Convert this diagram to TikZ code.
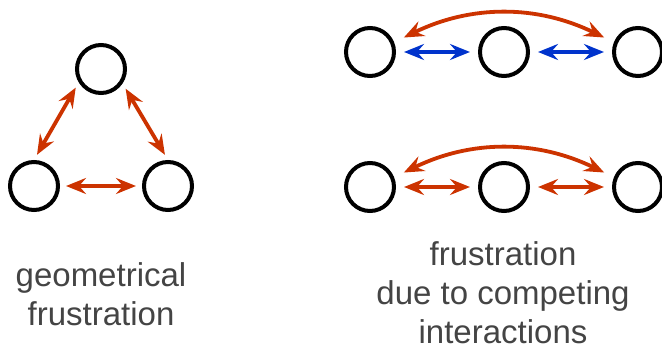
\documentclass[tikz,border=0pt]{standalone}
\usepackage{fontspec}
\setmainfont{Liberation Sans}
\usetikzlibrary{arrows.meta}
\definecolor{bondred}{RGB}{204,51,0}
\definecolor{bondblue}{RGB}{0,51,204}
\definecolor{labelgray}{RGB}{68,68,68}

\begin{document}
\begin{tikzpicture}[x=0.5pt,y=0.5pt,
		spin/.style={circle,draw=black,line width=2pt,minimum size=24pt,inner sep=0pt},
		bond/.style={line width=1.9pt,{Stealth[length=10pt,width=8pt,inset=3.5pt]}-{Stealth[length=10pt,width=8pt,inset=3.5pt]}},
		caption/.style={align=center,text=labelgray,font=\fontsize{16.5}{19.5}\selectfont,anchor=base}]
		\useasboundingbox (0,0) rectangle (662,-347);

		% triangle
		\node[spin] (t1) at (101,-69) {};
		\node[spin] (t2) at (34,-186) {};
		\node[spin] (t3) at (168,-186) {};

		% two chains
		\foreach \row/\y in {a/-52, b/-187} {
			\node[spin] (\row1) at (370,\y) {};
			\node[spin] (\row2) at (504,\y) {};
			\node[spin] (\row3) at (638,\y) {};
		}

		\foreach \s/\t in {t1.211/t2.90, t1.326/t3.90, t2.0/t3.180} {
			\draw[bond,bondred,shorten <=3pt,shorten >=3pt] (\s) -- (\t);
		}
		\foreach \row/\c in {a/bondblue, b/bondred} {
			\draw[bond,\c,shorten <=4pt,shorten >=4pt] (\row1.0) -- (\row2.180);
			\draw[bond,\c,shorten <=4pt,shorten >=4pt] (\row2.0) -- (\row3.180);
			\draw[bond,bondred,shorten <=5.4pt,shorten >=5.4pt] (\row1.22) to[bend left=26] (\row3.158);
		}

		% base sits on the last line
		\node[caption] (geo) at (101,-325) {geometrical\\frustration};
		\node[caption] (comp) at (503,-343) {frustration\\due to competing\\interactions};
	\end{tikzpicture}
\end{document}
